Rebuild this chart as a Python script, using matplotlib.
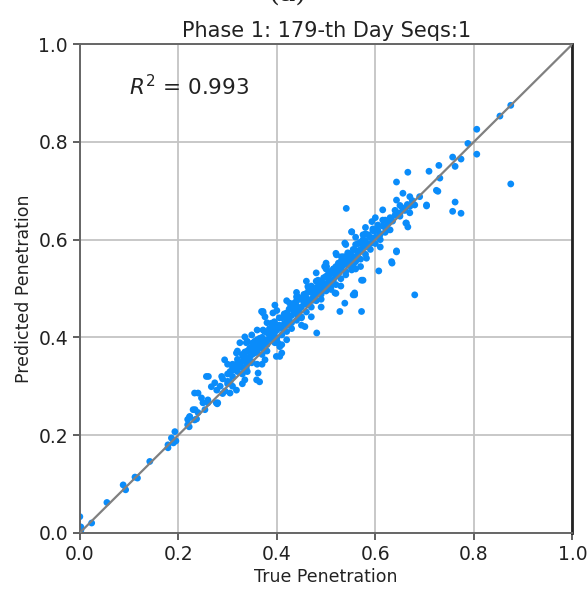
import matplotlib
matplotlib.use("Agg")
import matplotlib.pyplot as plt

# ---- data ----
true_low = [0.000, 0.002, 0.002, 0.024, 0.055, 0.088, 0.093, 0.112, 0.117, 0.142,
            0.179, 0.179, 0.186, 0.193, 0.195, 0.190, 0.222, 0.223, 0.219, 0.234,
            0.237, 0.240, 0.254, 0.250, 0.260, 0.279]
pred_low = [0.033, 0.012, 0.005, 0.020, 0.062, 0.098, 0.088, 0.114, 0.112, 0.146,
            0.180, 0.174, 0.194, 0.207, 0.188, 0.184, 0.217, 0.237, 0.232, 0.252,
            0.233, 0.246, 0.252, 0.266, 0.266, 0.264]

true_edge = [0.261, 0.240, 0.247, 0.260, 0.230, 0.223, 0.233, 0.219, 0.277, 0.267,
             0.274, 0.278, 0.294, 0.288, 0.305, 0.305, 0.318, 0.311, 0.321, 0.318,
             0.325, 0.335, 0.349, 0.338, 0.331, 0.338, 0.335, 0.359, 0.362, 0.349,
             0.355, 0.365, 0.369, 0.372, 0.376, 0.372, 0.392, 0.389, 0.382, 0.379,
             0.376, 0.406, 0.410, 0.396, 0.369, 0.392, 0.396, 0.402, 0.406, 0.420,
             0.423, 0.426, 0.443, 0.437, 0.450, 0.481, 0.457, 0.470, 0.473, 0.463,
             0.484, 0.491, 0.497, 0.501, 0.511, 0.518, 0.528, 0.538, 0.531, 0.521,
             0.544, 0.558, 0.558, 0.572, 0.552, 0.555, 0.572, 0.406, 0.399, 0.365,
             0.257, 0.280, 0.233, 0.372, 0.440, 0.501, 0.552]
pred_edge = [0.320, 0.286, 0.276, 0.272, 0.252, 0.238, 0.231, 0.221, 0.266, 0.299,
             0.307, 0.292, 0.354, 0.320, 0.309, 0.286, 0.292, 0.333, 0.340, 0.368,
             0.389, 0.401, 0.405, 0.389, 0.361, 0.337, 0.313, 0.313, 0.327, 0.348,
             0.368, 0.381, 0.395, 0.415, 0.442, 0.450, 0.450, 0.429, 0.409, 0.389,
             0.354, 0.422, 0.368, 0.389, 0.453, 0.412, 0.466, 0.389, 0.361, 0.395,
             0.432, 0.470, 0.483, 0.456, 0.442, 0.409, 0.422, 0.442, 0.476, 0.504,
             0.517, 0.497, 0.545, 0.524, 0.511, 0.491, 0.453, 0.470, 0.565, 0.569,
             0.573, 0.558, 0.491, 0.453, 0.538, 0.487, 0.517, 0.381, 0.361, 0.309,
             0.320, 0.266, 0.286, 0.453, 0.483, 0.545, 0.616]

true_a = [0.285, 0.29, 0.295, 0.30, 0.30, 0.305, 0.31, 0.31, 0.315, 0.32, 0.32, 0.325,
          0.33, 0.33, 0.335, 0.34, 0.34, 0.345, 0.35, 0.35, 0.355, 0.36, 0.36, 0.365,
          0.37, 0.37, 0.375, 0.38, 0.38, 0.385, 0.39, 0.39, 0.395, 0.40, 0.40,
          0.29, 0.30, 0.31, 0.32, 0.33, 0.34, 0.35, 0.36, 0.37, 0.38, 0.39, 0.40,
          0.31, 0.33, 0.35, 0.37, 0.39]
pred_a = [0.300, 0.315, 0.290, 0.325, 0.305, 0.330, 0.320, 0.345, 0.335, 0.330, 0.355, 0.340,
          0.350, 0.325, 0.362, 0.345, 0.372, 0.360, 0.375, 0.350, 0.382, 0.370, 0.395, 0.385,
          0.378, 0.400, 0.392, 0.395, 0.410, 0.405, 0.400, 0.420, 0.408, 0.415, 0.398,
          0.285, 0.310, 0.300, 0.340, 0.338, 0.355, 0.365, 0.378, 0.388, 0.385, 0.412, 0.425,
          0.338, 0.365, 0.388, 0.365, 0.395]

true_b = [0.405, 0.41, 0.41, 0.415, 0.42, 0.42, 0.425, 0.43, 0.43, 0.435, 0.44, 0.44,
          0.445, 0.45, 0.45, 0.455, 0.46, 0.46, 0.465, 0.47, 0.47, 0.475, 0.48, 0.48,
          0.485, 0.49, 0.49, 0.495, 0.50, 0.50,
          0.41, 0.42, 0.43, 0.44, 0.45, 0.46, 0.47, 0.48, 0.49, 0.50, 0.42, 0.44,
          0.46, 0.48, 0.50, 0.43, 0.47, 0.49]
pred_b = [0.425, 0.418, 0.440, 0.428, 0.425, 0.450, 0.438, 0.445, 0.430, 0.455, 0.448, 0.465,
          0.455, 0.462, 0.440, 0.470, 0.468, 0.480, 0.472, 0.478, 0.492, 0.485, 0.490, 0.502,
          0.495, 0.500, 0.515, 0.505, 0.510, 0.525,
          0.405, 0.412, 0.460, 0.435, 0.478, 0.452, 0.462, 0.475, 0.488, 0.495, 0.435, 0.475,
          0.490, 0.515, 0.540, 0.418, 0.505, 0.478]

true_c = [0.505, 0.51, 0.51, 0.515, 0.52, 0.52, 0.525, 0.53, 0.53, 0.535, 0.54, 0.54,
          0.545, 0.55, 0.55, 0.555, 0.56, 0.56, 0.565, 0.57, 0.57, 0.575, 0.58, 0.58,
          0.585, 0.59, 0.59, 0.595, 0.60, 0.60,
          0.51, 0.52, 0.53, 0.54, 0.55, 0.56, 0.57, 0.58, 0.59, 0.60, 0.515, 0.535,
          0.555, 0.575, 0.595, 0.52, 0.56]
pred_c = [0.520, 0.505, 0.530, 0.518, 0.525, 0.545, 0.530, 0.540, 0.520, 0.548, 0.550, 0.535,
          0.560, 0.555, 0.570, 0.565, 0.560, 0.578, 0.572, 0.580, 0.560, 0.588, 0.585, 0.598,
          0.590, 0.592, 0.605, 0.600, 0.605, 0.618,
          0.498, 0.508, 0.555, 0.528, 0.545, 0.590, 0.595, 0.570, 0.580, 0.592, 0.540, 0.565,
          0.548, 0.610, 0.622, 0.490, 0.540]

true_d = [0.605, 0.61, 0.615, 0.62, 0.62, 0.625, 0.63, 0.635, 0.64, 0.645, 0.65, 0.655,
          0.66, 0.665, 0.67, 0.675, 0.61, 0.63, 0.65, 0.67,
          0.541, 0.552, 0.538, 0.575, 0.558, 0.607, 0.633, 0.643, 0.582, 0.593, 0.615,
          0.643, 0.663, 0.666, 0.643, 0.670, 0.704, 0.724, 0.680, 0.623, 0.609, 0.629,
          0.650, 0.660, 0.680, 0.690]
pred_d = [0.620, 0.612, 0.628, 0.625, 0.640, 0.632, 0.645, 0.638, 0.650, 0.655, 0.648, 0.665,
          0.660, 0.672, 0.668, 0.680, 0.600, 0.620, 0.670, 0.655,
          0.664, 0.616, 0.593, 0.517, 0.487, 0.536, 0.555, 0.577, 0.562, 0.637, 0.661,
          0.681, 0.634, 0.626, 0.718, 0.688, 0.671, 0.701, 0.487, 0.620, 0.609, 0.640,
          0.654, 0.661, 0.671, 0.688]

true_e = [0.32, 0.335, 0.345, 0.355, 0.365, 0.375, 0.385, 0.395, 0.405, 0.415, 0.425, 0.435,
          0.445, 0.455, 0.465, 0.475, 0.485, 0.495, 0.505, 0.515, 0.525, 0.535, 0.545, 0.555,
          0.565, 0.575, 0.585, 0.595, 0.605, 0.615,
          0.34, 0.36, 0.38, 0.40, 0.42, 0.44, 0.46, 0.48, 0.50, 0.52, 0.54, 0.56, 0.58,
          0.62, 0.64]
pred_e = [0.348, 0.370, 0.378, 0.392, 0.398, 0.412, 0.418, 0.432, 0.440, 0.448, 0.458, 0.470,
          0.478, 0.488, 0.498, 0.500, 0.510, 0.522, 0.535, 0.540, 0.552, 0.560, 0.572, 0.580,
          0.592, 0.600, 0.610, 0.618, 0.630, 0.640,
          0.330, 0.345, 0.372, 0.390, 0.445, 0.455, 0.470, 0.492, 0.502, 0.535, 0.565, 0.555,
          0.612, 0.615, 0.660]

true_f = [0.30, 0.32, 0.34, 0.36, 0.38, 0.40, 0.42, 0.44, 0.46, 0.48, 0.50, 0.52,
          0.54, 0.56, 0.58, 0.60, 0.33, 0.37, 0.41, 0.45, 0.49, 0.53, 0.57, 0.61]
pred_f = [0.345, 0.372, 0.392, 0.415, 0.430, 0.455, 0.475, 0.492, 0.515, 0.532, 0.552, 0.572,
          0.590, 0.605, 0.625, 0.645, 0.305, 0.345, 0.385, 0.425, 0.462, 0.505, 0.545, 0.585]

true_high = [0.875, 0.853, 0.806, 0.806, 0.788, 0.875, 0.774, 0.757, 0.762, 0.704,
             0.666, 0.709, 0.729, 0.757, 0.774, 0.762, 0.731, 0.727, 0.656, 0.643,
             0.634, 0.662]
pred_high = [0.875, 0.853, 0.826, 0.775, 0.797, 0.714, 0.654, 0.658, 0.677, 0.669,
             0.738, 0.740, 0.752, 0.769, 0.765, 0.750, 0.726, 0.699, 0.695, 0.575,
             0.552, 0.634]

title = "Phase 1: 179-th Day Seqs:1"
r2_text = r"$R^2$ = 0.993"
x_label = "True Penetration"
y_label = "Predicted Penetration"
ticks = [0.0, 0.2, 0.4, 0.6, 0.8, 1.0]

true_all = (true_low + true_edge + true_a + true_b + true_c + true_d + true_e
            + true_f + true_high)
pred_all = (pred_low + pred_edge + pred_a + pred_b + pred_c + pred_d + pred_e
            + pred_f + pred_high)

fig = plt.figure(figsize=(5.87, 5.90), dpi=100)
ax = fig.add_axes([0.136, 0.097, 0.839, 0.828])

ax.grid(True, color="#c4c4c4", linewidth=1.3, zorder=0)
ax.set_axisbelow(True)
ax.scatter(true_all, pred_all, s=24, color="#0a8cfa", edgecolors="none", zorder=2)
ax.plot([0, 1], [0, 1], color="#808080", linewidth=1.6, zorder=3)

ax.set_xlim(0, 1)
ax.set_ylim(0, 1)
ax.set_xticks(ticks)
ax.set_yticks(ticks)
ax.set_xticklabels([f"{t:.1f}" for t in ticks])
ax.set_yticklabels([f"{t:.1f}" for t in ticks])
ax.tick_params(labelsize=13.5, color="#444444", length=5, width=1.2, labelcolor="#222222")
for side, sp in ax.spines.items():
    sp.set_color("#666666")
    sp.set_linewidth(1.4)
ax.spines["right"].set_color("#222222")
ax.spines["right"].set_linewidth(2.0)

ax.set_title(title, fontsize=15, color="#222222", pad=5)
ax.set_xlabel(x_label, fontsize=12.5, color="#222222", labelpad=3)
ax.set_ylabel(y_label, fontsize=12.5, color="#222222", labelpad=4)
ax.text(0.10, 0.914, r2_text, fontsize=15.5, va="center", ha="left", color="#222222",
        transform=ax.transAxes)

fig.text(0.49, 1.012, "(a)", fontsize=20, ha="center", va="center", family="DejaVu Serif",
         color="#222222")

fig.savefig("out.png", dpi=100)
